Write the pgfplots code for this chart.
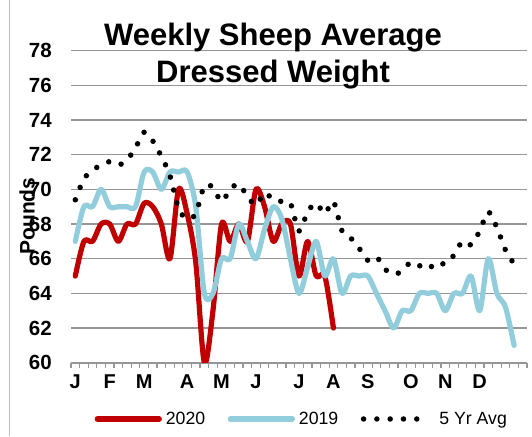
\documentclass[border=0pt]{standalone}
\usepackage{fontspec}
\setmainfont{Liberation Sans}
\usepackage{pgfplots}
\usepackage{pgfplotstable}
\pgfplotsset{compat=1.18}
\definecolor{red20}{RGB}{192,0,0}
\definecolor{blue19}{RGB}{146,205,220}
\definecolor{gridgray}{RGB}{150,150,150}
\definecolor{framegray}{RGB}{190,190,190}
\pgfplotstableread{
w y
0 65
1 67
2 67
3 68
4 68
5 67
6 68
7 68
8 69.2
9 69
10 68
11 66
12 70
13 68.6
14 65.8
15 60
16 63
17 68
18 67
19 68
20 67
21 70
22 69
23 67
24 68
25 68
26 65
27 67
28 65
29 65
30 62
}\tblA
\pgfplotstableread{
w y
0 67
1 69
2 69
3 70
4 69
5 69
6 69
7 69
8 71
9 71
10 70
11 71
12 71
13 71
14 69
15 64
16 64
17 66
18 66
19 68
20 67
21 66
22 67.7
23 69
24 68.3
25 66
26 64
27 65.5
28 67
29 65
30 66
31 64
32 65
33 65
34 65
35 64
36 63
37 62
38 63
39 63
40 64
41 64
42 64
43 63
44 64
45 64
46 65
47 63
48 66
49 64
50 63.2
51 61
}\tblB
\pgfplotstableread{
w y
0 69.4
1 70.6
2 71.1
3 71.4
4 71.6
5 71.4
6 71.7
7 72.4
8 73.3
9 72.8
10 71.9
11 70.8
12 68.9
13 68.3
14 68.6
15 70.2
16 70.1
17 69.3
18 70.0
19 70.3
20 69.6
21 69.1
22 69.8
23 69.4
24 69.3
25 69.2
26 67.6
27 68.7
28 69.2
29 68.6
30 69.3
31 67.6
32 67.2
33 66.6
34 65.9
35 66.1
36 65.4
37 65.1
38 65.3
39 65.8
40 65.6
41 65.4
42 65.8
43 65.7
44 66.2
45 67.0
46 66.8
47 67.6
48 68.7
49 67.8
50 66.5
51 65.7
}\tblC
\begin{document}
\begin{tikzpicture}
\path[use as bounding box] (0pt,0pt) rectangle (532pt,-436pt);
\draw[framegray, line width=1pt] (9.5pt,0pt) -- (9.5pt,-436pt);
\begin{axis}[
  at={(71pt,-362.7pt)}, anchor=south west,
  scale only axis, width=456pt, height=312pt,
  xmin=-0.5, xmax=52.5, ymin=60, ymax=78,
  axis x line*=bottom, axis y line*=left,
  x axis line style={draw=gridgray, line width=2pt, -},
  y axis line style={draw=none},
  ytick={60,62,...,78},
  ymajorgrids,
  grid style={draw=gridgray, line width=1.5pt},
  xtick={0,4,8,13,17,21,26,30,34,39,43,47},
  xticklabels={J,F,M,A,M,J,J,A,S,O,N,D},
  minor xtick={-0.5,0.5,...,52.5},
  major tick length=0pt,
  minor tick length=5pt,
  tick align=outside,
  minor tick style={draw=gridgray, line width=1.2pt},
  /pgf/number format/assume math mode=true,
  yticklabel style={font=\fontsize{20.5}{24}\selectfont\bfseries, anchor=east, inner sep=0pt, xshift=-19pt},
  xticklabel style={font=\fontsize{20}{24}\selectfont\bfseries, anchor=north, inner sep=0pt, yshift=-12pt},
  ylabel={Pounds},
  ylabel style={font=\fontsize{21}{24}\selectfont\bfseries, at={(axis description cs:-0.0965,0.47)}, anchor=center, inner sep=0pt},
  title={Weekly Sheep Average\\Dressed Weight},
  title style={font=\fontsize{31}{37}\selectfont\bfseries, align=center, at={(axis description cs:0.443,1.0696)}, anchor=north, inner sep=0pt},
  legend columns=3,
  legend style={draw=none, fill=none, at={(0.0515,-0.1804)}, anchor=west, inner sep=0pt,
    font=\fontsize{17.7}{20}\selectfont, nodes={inner sep=0pt},
    /tikz/every odd column/.append style={column sep=4pt},
    /tikz/every even column/.append style={column sep=22.5pt}},
]
\addplot[red20, line width=5.2pt, smooth, line cap=round, line join=round,
  legend image code/.code={\draw[red20, line width=5.2pt, line cap=round] (0pt,0pt) -- (62pt,0pt);}]
  table[x=w,y=y] {\tblA};
\addlegendentry{2020}
\addplot[blue19, line width=5.2pt, smooth, line cap=round, line join=round,
  legend image code/.code={\draw[blue19, line width=5.2pt, line cap=round] (0pt,0pt) -- (62pt,0pt);}]
  table[x=w,y=y] {\tblB};
\addlegendentry{2019}
\addplot[black, line width=5.5pt, smooth, line cap=round, dash pattern=on 0pt off 13.3pt,
  legend image code/.code={\draw[black, line width=5.5pt, line cap=round, dash pattern=on 0pt off 13.3pt] (0pt,0pt) -- (53.4pt,0pt); \path (69pt,0pt);}]
  table[x=w,y=y] {\tblC};
\addlegendentry{5 Yr Avg}
\end{axis}
\end{tikzpicture}
\end{document}
